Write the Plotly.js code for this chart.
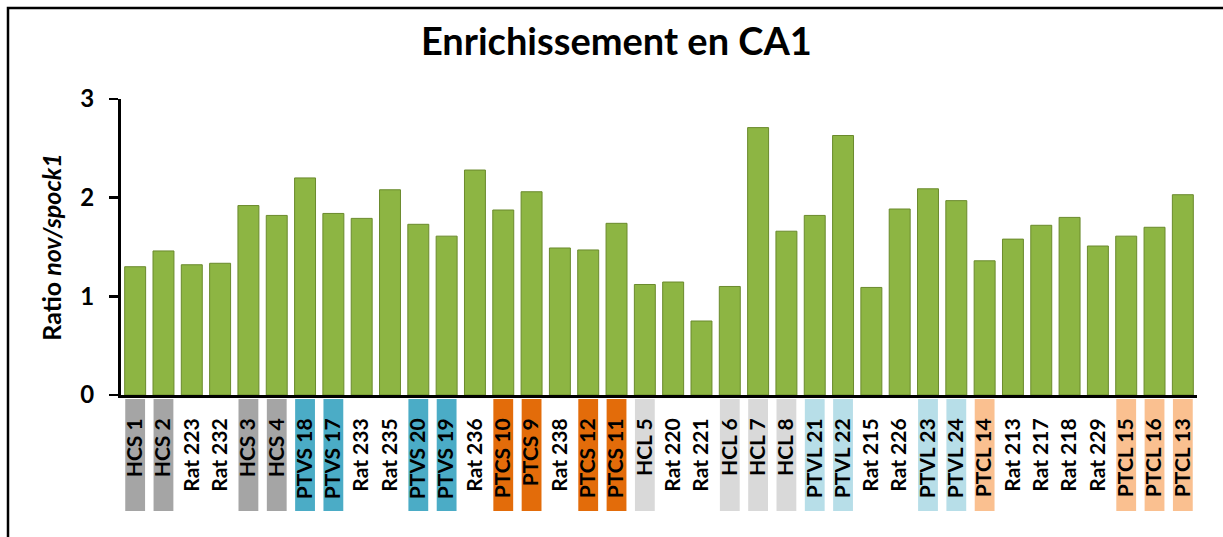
<!DOCTYPE html>
<html>
<head>
<meta charset="utf-8">
<script src="https://cdn.plot.ly/plotly-3.0.1.min.js"></script>
<style>html,body{margin:0;padding:0;background:#fff;}#chart{width:1223px;height:537px;}</style>
</head>
<body>
<div id="chart"></div>
<script>
const categories = ["HCS 1","HCS 2","Rat 223","Rat 232","HCS 3","HCS 4","PTVS 18","PTVS 17","Rat 233","Rat 235","PTVS 20","PTVS 19","Rat 236","PTCS 10","PTCS 9","Rat 238","PTCS 12","PTCS 11","HCL 5","Rat 220","Rat 221","HCL 6","HCL 7","HCL 8","PTVL 21","PTVL 22","Rat 215","Rat 226","PTVL 23","PTVL 24","PTCL 14","Rat 213","Rat 217","Rat 218","Rat 229","PTCL 15","PTCL 16","PTCL 13"];
const ratios = [1.30,1.46,1.32,1.335,1.92,1.82,2.20,1.84,1.79,2.08,1.73,1.61,2.28,1.875,2.06,1.49,1.47,1.74,1.12,1.145,0.75,1.10,2.71,1.66,1.82,2.63,1.09,1.885,2.09,1.97,1.36,1.58,1.72,1.80,1.51,1.61,1.70,2.03];
const yTicks = [0,1,2,3];

const groupColors = {HCS:"#a5a5a5", PTVS:"#4bacc6", PTCS:"#e36c0a", HCL:"#d9d9d9", PTVL:"#b7dee8", PTCL:"#fac090"};

const W = 1223, H = 537, ML = 121, MR = 26, MT = 99, MB = 142;
const PW = W - ML - MR, PH = H - MT - MB;
const py = p => (H - MB - p) / PH;   // pixel y -> paper y
const px = p => (p - ML) / PW;       // pixel x -> paper x

const shapes = [];
categories.forEach((c, i) => {
  const g = c.split(" ")[0];
  if (groupColors[g]) {
    shapes.push({type:"rect", layer:"below", xref:"x", yref:"paper",
      x0:i-0.35, x1:i+0.35, y0:py(511), y1:py(399),
      fillcolor:groupColors[g], line:{width:0}});
  }
});
shapes.push({type:"rect", xref:"paper", yref:"paper", x0:px(8), x1:px(1240), y0:py(560), y1:py(8),
  line:{color:"#000", width:2.5}, fillcolor:"rgba(0,0,0,0)", layer:"below"});

const font = "Lato, 'Open Sans', sans-serif";
const data = [{
  type:"bar", x:categories, y:ratios,
  marker:{color:"#8db543", line:{color:"#6a8a2c", width:1}},
  hoverinfo:"x+y"
}];
const layout = {
  width:W, height:H,
  margin:{l:ML, r:MR, t:MT, b:MB},
  paper_bgcolor:"#fff", plot_bgcolor:"#fff",
  showlegend:false, bargap:0.26,
  title:{text:"Enrichissement en CA1", font:{family:font, size:38, weight:"bold", color:"#000"},
    xref:"container", x:0.504, yref:"container", y:1-42/H, yanchor:"middle"},
  xaxis:{type:"category", showline:true, linecolor:"#000", linewidth:3,
    ticks:"", tickangle:-90, ticklabelstandoff:12,
    tickfont:{family:font, size:21, weight:"bold", color:"#000"}, showgrid:false, zeroline:false, fixedrange:true},
  yaxis:{range:[0,3], tickvals:yTicks, ticktext:yTicks.map(String), showline:true, linecolor:"#000", linewidth:3,
    ticks:"outside", ticklen:9, tickwidth:2.5, tickcolor:"#000", ticklabelstandoff:10,
    tickfont:{family:font, size:24, weight:"bold", color:"#000"}, showgrid:false, zeroline:false,
    title:{text:"Ratio <i>nov/spock1</i>", font:{family:font, size:25, weight:"bold", color:"#000"}, standoff:12}},
  shapes:shapes
};
Plotly.newPlot("chart", data, layout, {displayModeBar:false, staticPlot:true});
</script>
</body>
</html>
